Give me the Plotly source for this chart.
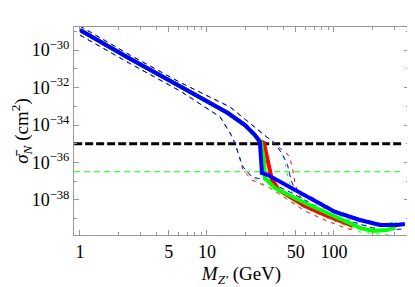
import plotly.graph_objects as go

# ---- data (M_Z' in GeV, sigma_N in cm^2) ----
blue_M = [1, 2.48, 6.13, 14.6, 19.9, 23.9, 26.1, 27.1, 30.2, 46.7, 64.7, 102, 160, 230, 313, 362]
blue_sigma = [1.17e-29, 3.4e-31, 1.17e-32, 4.37e-34, 1.0e-34, 2.95e-35, 1.23e-35, 2.75e-37,
              2.14e-37, 4.37e-38, 1.29e-38, 2.29e-39, 8.5e-40, 4.68e-40, 4.68e-40, 5.25e-40]

red_M = [1, 2.48, 6.13, 14.6, 19.9, 23.9, 26.1, 28.1, 30.2, 32.5, 36.8, 41.1, 59.1, 84.9, 122, 141]
red_sigma = [1.17e-29, 3.4e-31, 1.17e-32, 4.37e-34, 1.0e-34, 2.95e-35, 1.41e-35, 1.10e-35,
             9.3e-37, 1.17e-37, 3.4e-38, 2.1e-38, 4.8e-39, 1.58e-39, 5.9e-40, 4.1e-40]

green_M = [1, 2.48, 6.13, 14.6, 19.9, 23.9, 26.6, 28.1, 28.6, 34.2, 46.7, 59.1, 84.9, 122, 160,
           203, 261, 294, 313]
green_sigma = [1.17e-29, 3.4e-31, 1.17e-32, 4.37e-34, 1.0e-34, 2.95e-35, 1.23e-35, 1.35e-36,
               1.48e-37, 4.37e-38, 1.45e-38, 6.9e-39, 2.29e-39, 7.6e-40, 3.24e-40, 2.24e-40,
               2.51e-40, 3.24e-40, 5.9e-40]

blue_up_M = [1, 2.48, 6.13, 15.2, 29.6, 34.2, 39.6, 43.1, 45.9, 49.3, 64.7, 102, 160, 230, 331]
blue_up_sigma = [1.9e-29, 5.4e-31, 1.9e-32, 9.1e-34, 2.29e-35, 1.1e-35, 2.5e-36, 7.4e-37,
                 1.17e-37, 3.4e-38, 1.58e-38, 2.8e-39, 1.0e-39, 5.6e-40, 5.6e-40]
blue_lo_M = [1, 2.48, 6.13, 12.7, 15.2, 16.6, 17.5, 19.2, 22.6, 28.6, 46.7, 102, 230, 362]
blue_lo_sigma = [6.3e-30, 1.9e-31, 6.6e-33, 2.7e-34, 3.7e-35, 1.1e-35, 3.6e-36, 5.8e-37,
                 1.7e-37, 1.17e-37, 2.34e-38, 1.23e-39, 2.5e-40, 2.8e-40]

red_up_M = [1, 2.48, 6.13, 15.2, 29.6, 35.5, 43.7, 46.7, 49.3, 52.3, 59.1, 84.9, 122, 141]
red_up_sigma = [1.9e-29, 5.4e-31, 1.9e-32, 9.1e-34, 2.29e-35, 8.5e-36, 2.5e-36, 7.4e-37,
                8.1e-38, 2.34e-38, 6.9e-39, 2.29e-39, 8.5e-40, 5.9e-40]
red_lo_M = [1, 2.48, 6.13, 12.7, 15.2, 16.6, 17.5, 19.2, 22.6, 31.3, 59.1, 84.9, 122, 141]
red_lo_sigma = [6.3e-30, 1.9e-31, 6.6e-33, 2.7e-34, 3.7e-35, 1.1e-35, 3.6e-36, 4.0e-37,
                1.17e-37, 4.37e-38, 2.57e-39, 8.5e-40, 3.24e-40, 2.5e-40]

green_up_M = [1, 2.48, 6.13, 15.2, 29.6, 34.2, 39.6, 41.1, 43.7, 46.7, 59.1, 84.9, 122, 203, 313]
green_up_sigma = [1.9e-29, 5.4e-31, 1.9e-32, 9.1e-34, 2.29e-35, 1.1e-35, 2.5e-36, 7.4e-37,
                  1.48e-37, 2.7e-38, 1.0e-38, 3.3e-39, 1.1e-39, 3.24e-40, 7.6e-40]
green_lo_M = [1, 2.48, 6.13, 12.7, 15.2, 16.6, 17.5, 19.2, 22.6, 28.6, 46.7, 84.9, 160, 261, 313]
green_lo_sigma = [6.3e-30, 1.9e-31, 6.6e-33, 2.7e-34, 3.7e-35, 1.1e-35, 3.6e-36, 5.8e-37,
                  1.7e-37, 6.3e-38, 7.8e-39, 1.23e-39, 1.95e-40, 1.35e-40, 3.24e-40]

limit_M = [0.9, 355]
black_limit = [1.0e-35, 1.0e-35]
green_limit = [3.2e-37, 3.2e-37]

x_tick_vals = [1, 5, 10, 50, 100]
x_tick_text = ["1", "5", "10", "50", "100"]
x_minor_vals = [2, 3, 4, 6, 7, 8, 9, 20, 30, 40, 60, 70, 80, 90, 200, 300]
y_tick_vals = [1e-30, 1e-32, 1e-34, 1e-36, 1e-38]
y_tick_text = ["10<sup>\u221230</sup>", "10<sup>\u221232</sup>", "10<sup>\u221234</sup>",
               "10<sup>\u221236</sup>", "10<sup>\u221238</sup>"]
y_minor_vals = [1e-29, 1e-31, 1e-33, 1e-35, 1e-37, 1e-39]

BLUE = "#0000ff"
RED = "#ff0000"
GREEN = "#00ff00"
FONT = "Liberation Serif"

fig = go.Figure()

# horizontal limits
fig.add_trace(go.Scatter(x=limit_M, y=green_limit, mode="lines",
                         line=dict(color=GREEN, width=1, dash="6px,4px")))
fig.add_trace(go.Scatter(x=limit_M, y=black_limit, mode="lines",
                         line=dict(color="black", width=3, dash="8px,3px")))

# thin dashed bands
for xs, ys, c, d in [
    (red_up_M, red_up_sigma, RED, "4px,5px"),
    (red_lo_M, red_lo_sigma, RED, "4px,5px"),
    (green_up_M, green_up_sigma, GREEN, "3px,6px"),
    (green_lo_M, green_lo_sigma, GREEN, "3px,6px"),
    (blue_up_M, blue_up_sigma, BLUE, "5px,4px"),
    (blue_lo_M, blue_lo_sigma, BLUE, "5px,4px"),
]:
    fig.add_trace(go.Scatter(x=xs, y=ys, mode="lines", line=dict(color=c, width=1, dash=d)))

# thick curves
fig.add_trace(go.Scatter(x=red_M, y=red_sigma, mode="lines", line=dict(color=RED, width=4)))
fig.add_trace(go.Scatter(x=green_M, y=green_sigma, mode="lines", line=dict(color=GREEN, width=4)))
fig.add_trace(go.Scatter(x=blue_M, y=blue_sigma, mode="lines", line=dict(color=BLUE, width=4)))

axis_common = dict(showgrid=False, zeroline=False, showline=True, linecolor="#999999",
                   linewidth=1, mirror="allticks", ticks="inside", tickcolor="#999999",
                   ticklen=5, tickwidth=1, automargin=False,
                   tickfont=dict(family=FONT, size=18, color="black"))

fig.update_xaxes(type="log", range=[-0.047, 2.591], tickmode="array",
                 tickvals=x_tick_vals, ticktext=x_tick_text,
                 minor=dict(tickmode="array", tickvals=x_minor_vals, ticks="inside",
                            ticklen=3, tickcolor="#999999"),
                 title=dict(text="<i>M</i><sub><i>Z'</i></sub> (GeV)",
                            font=dict(family=FONT, size=19, color="black"), standoff=6),
                 **axis_common)
fig.update_yaxes(type="log", range=[-39.87, -28.77], tickmode="array",
                 tickvals=y_tick_vals, ticktext=y_tick_text,
                 minor=dict(tickmode="array", tickvals=y_minor_vals, ticks="inside",
                            ticklen=3, tickcolor="#999999"),
                 title=dict(text="<i>\u03c3\u0304</i><sub><i>N</i></sub> (cm<sup>2</sup>)",
                            font=dict(family=FONT, size=19, color="black"), standoff=2),
                 **axis_common)

# page body has an 8px margin: the figure is shrunk by 8px so the plot lands where it should
fig.update_layout(width=407, height=279, margin=dict(l=66, r=6, t=19, b=52),
                  font=dict(family=FONT, size=18, color="black"),
                  paper_bgcolor="white", plot_bgcolor="white", showlegend=False)

fig.write_html("out.html")
